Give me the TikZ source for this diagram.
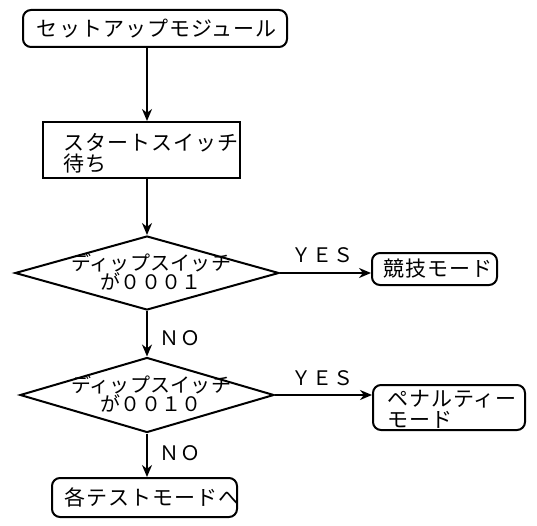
\documentclass[tikz,border=0pt]{standalone}
\usepackage{fontspec}
\setmainfont{Noto Sans CJK JP}
\newfontfamily\jpA[LetterSpace=5]{Noto Sans CJK JP}
\newfontfamily\jpB[LetterSpace=1]{Noto Sans CJK JP}
\usetikzlibrary{arrows.meta,shapes.geometric}
\begin{document}
\begin{tikzpicture}[x=1pt,y=-1pt, line width=2pt,
  rbox/.style={draw, rounded corners=8pt, inner sep=0pt},
  sbox/.style={draw, inner sep=0pt},
  dec/.style={draw, diamond, inner sep=0pt},
  txt/.style={inner sep=0pt, align=left, font=\jpA\fontsize{21}{21}\selectfont},
  dtxt/.style={inner sep=0pt, align=center, font=\jpB\fontsize{20}{19.5}\selectfont},
  arr/.style={-{Stealth[length=12pt,width=10pt]}},
  lbl/.style={inner sep=0pt, font=\jpA\fontsize{20}{20}\selectfont}]
\useasboundingbox (0,0) rectangle (537,526);

% nodes
\node[rbox, minimum width=264pt, minimum height=37pt] (n1) at (155,28.5) {};
\node[txt] (n1t) at (157,29) {セットアップモジュール};

\node[sbox, minimum width=197pt, minimum height=56pt] (n2) at (141.5,150) {};
\node[txt, anchor=west] (n2t) at (62,153) {スタートスイッチ\\待ち};

\node[dec, minimum width=264pt, minimum height=74pt] (d1) at (147,273) {};
\node[dtxt] (d1t) at (151,272) {ディップスイッチ\\が０００１};

\node[rbox, minimum width=125pt, minimum height=32pt] (k) at (434.5,269) {};
\node[txt] (kt) at (438,269) {競技モード};

\node[dec, minimum width=254pt, minimum height=75pt] (d2) at (147,395) {};
\node[dtxt] (d2t) at (151,394) {ディップスイッチ\\が００１０};

\node[rbox, minimum width=152pt, minimum height=45pt] (p) at (449,407.5) {};
\node[txt, anchor=west] (pt) at (386,409) {ペナルティー\\モード};

\node[rbox, minimum width=185pt, minimum height=39pt] (e) at (144.5,497.5) {};
\node[txt, anchor=west] (et) at (63,497) {各テストモードへ};

% labels
\node[lbl] (y1) at (322,255) {ＹＥＳ};
\node[lbl] (y2) at (322,378) {ＹＥＳ};
\node[lbl] (no1) at (180,338) {ＮＯ};
\node[lbl] (no2) at (180,453) {ＮＯ};

% connectors
\draw[arr] (n1.south -| d1.north) -- (n2.north -| d1.north);
\draw[arr] (n2.south -| d1.north) -- (d1.north);
\draw[arr] (d1.east) -- (d1.east -| k.west);
\draw[arr] (d1.south) -- (d2.north);
\draw[arr] (d2.east) -- (d2.east -| p.west);
\draw[arr] (d2.south) -- (e.north -| d2.south);
\end{tikzpicture}
\end{document}
